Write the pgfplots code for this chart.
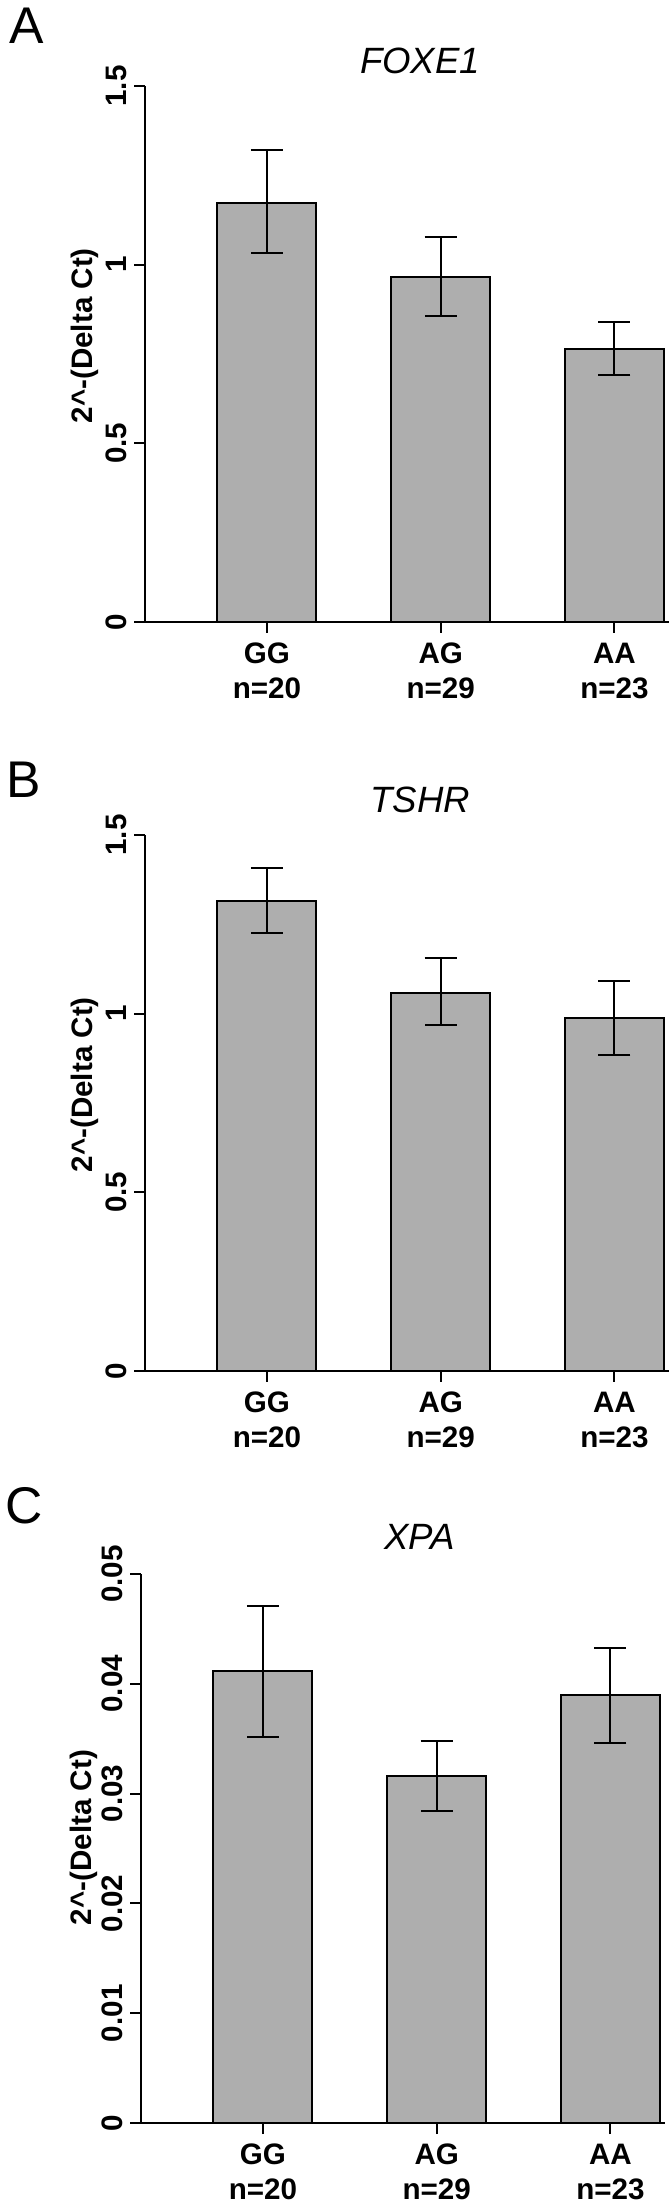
\documentclass[border=0pt]{standalone}
\usepackage{fontspec}
\setmainfont{Liberation Sans}
\usepackage{pgfplots}
\pgfplotsset{compat=1.18}
\definecolor{barg}{RGB}{174,174,174}

% 1 px of the reference = 0.5pt
\pgfplotsset{
  genebar/.style={
    scale only axis, width=262pt,
    axis lines=left, axis line style={-, line width=1pt},
    xmin=-0.702, xmax=2.314, ymin=0,
    xtick={0,1,2},
    xticklabels={{GG\\n=20},{AG\\n=29},{AA\\n=23}},
    xticklabel style={align=center, yshift=-1.5pt, font=\bfseries\fontsize{14.8}{17.5}\selectfont},
    yticklabel style={rotate=90, anchor=south, font=\bfseries\fontsize{14.8}{17.5}\selectfont},
    tick align=outside, major tick length=5.5pt,
    tick style={line width=1pt, black},
    scaled y ticks=false,
    ylabel={2\textasciicircum-(Delta Ct)},
    label style={font=\bfseries\fontsize{14.8}{17.5}\selectfont},
    title style={font=\itshape\fontsize{18.3}{22}\selectfont, anchor=base},
    clip=false,
    ybar, bar width=0.57,
    error bars/y dir=both, error bars/y explicit,
    error bars/error bar style={line width=1pt, black},
    error bars/error mark options={black, mark size=8pt, line width=1pt, rotate=90},
  },
  gbar/.style={fill=barg, draw=black, line width=1pt},
}

\begin{document}
\begin{tikzpicture}
\useasboundingbox (0,0) rectangle (334.5pt,1102pt);

% A: FOXE1
\begin{axis}[genebar, at={(72.5pt,791pt)}, anchor=south west, height=268pt,
  ymax=1.5, ytick={0,0.5,1,1.5}, yticklabels={0,0.5,1,1.5},
  ylabel style={at={(axis description cs:-0.1145,0.534)}, anchor=center},
  title={FOXE1}, title style={at={(axis description cs:0.525,1)}}]
\addplot[gbar] coordinates {
  (0,1.173) += (0,0.149) -= (0,0.141)
  (1,0.966) += (0,0.112) -= (0,0.110)
  (2,0.764) += (0,0.075) -= (0,0.073)
};
\end{axis}

% B: TSHR
\begin{axis}[genebar, at={(72.5pt,416.5pt)}, anchor=south west, height=268pt,
  ymax=1.5, ytick={0,0.5,1,1.5}, yticklabels={0,0.5,1,1.5},
  ylabel style={at={(axis description cs:-0.1145,0.534)}, anchor=center},
  title={TSHR}, title style={at={(axis description cs:0.525,1)}, yshift=5pt}]
\addplot[gbar] coordinates {
  (0,1.316) += (0,0.092) -= (0,0.091)
  (1,1.058) += (0,0.097) -= (0,0.091)
  (2,0.988) += (0,0.102) -= (0,0.105)
};
\end{axis}

% C: XPA
\begin{axis}[genebar, at={(70.5pt,40.5pt)}, anchor=south west, height=274.5pt,
  ymax=0.05, ytick={0,0.01,0.02,0.03,0.04,0.05},
  yticklabels={0,0.01,0.02,0.03,0.04,0.05},
  ylabel style={at={(axis description cs:-0.11,0.52)}, anchor=center},
  title={XPA}, title style={at={(axis description cs:0.532,1)}, yshift=6pt}]
\addplot[gbar] coordinates {
  (0,0.04118) += (0,0.00588) -= (0,0.00601)
  (1,0.03162) += (0,0.00317) -= (0,0.00317)
  (2,0.03895) += (0,0.00433) -= (0,0.00434)
};
\end{axis}

\node[anchor=north west, inner sep=0pt, font=\fontsize{25.8}{30}\selectfont] at (4.5pt,1098pt) {A};
\node[anchor=north west, inner sep=0pt, font=\fontsize{25.8}{30}\selectfont] at (3pt,721pt) {B};
\node[anchor=north west, inner sep=0pt, font=\fontsize{25.8}{30}\selectfont] at (2.5pt,358.5pt) {C};
\end{tikzpicture}
\end{document}
